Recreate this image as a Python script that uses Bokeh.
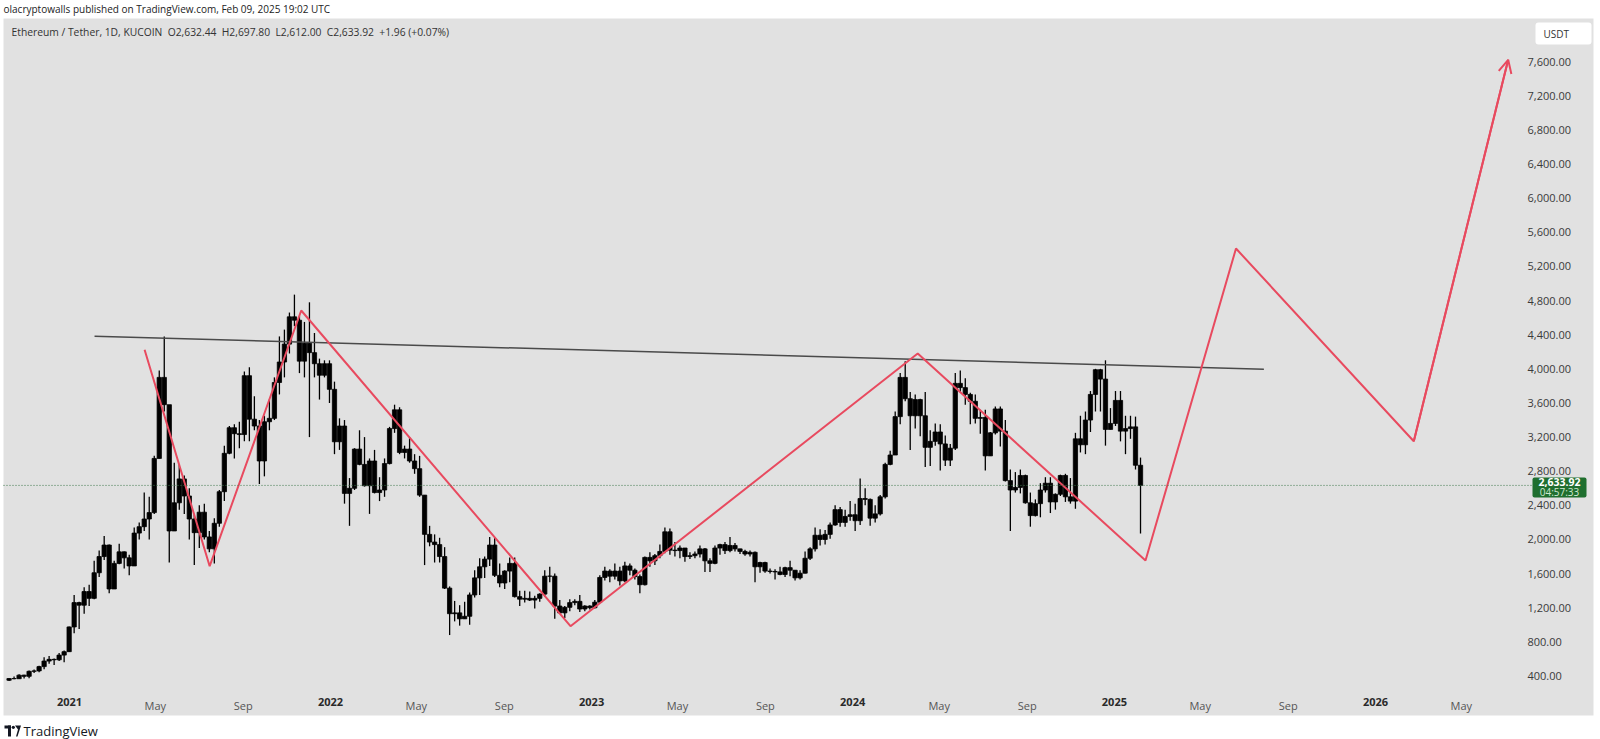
import pandas as pd
from bokeh.plotting import figure
from bokeh.models import (Range1d, LinearAxis, FixedTicker, NumeralTickFormatter,
                          Label, BoxAnnotation, Arrow, OpenHead, ColumnDataSource)
from bokeh.embed import file_html
from bokeh.resources import INLINE

# ------------------------------------------------------------------ data
# ETH/USDT, one candle per week (weeks starting Monday)
week_start = "2020-10-05"
first_open = 350

close_2020 = [370, 368, 410, 396, 455, 460, 510, 575, 595, 590, 645, 685, 975]
high_2020 = [375, 395, 420, 415, 465, 475, 520, 620, 635, 605, 670, 700, 980]
low_2020 = [340, 362, 365, 370, 375, 435, 445, 480, 545, 530, 575, 560, 680]

close_2021 = [1260, 1230, 1390, 1310, 1610, 1800, 1935, 1420, 1720, 1855, 1785, 1690, 2075,
              2150, 2240, 2315, 2950, 3900, 3580, 2100, 2430, 2710, 2510, 2240, 2080, 2320,
              2030, 1890, 2190, 2560, 3010, 3310, 3240, 3230, 3920, 3410, 3330, 2920, 3380,
              3420, 3840, 4080, 4290, 4610, 4570, 4090, 4300, 4190, 4060, 3925, 4060, 3760]
high_2021 = [1350, 1270, 1440, 1470, 1750, 1870, 2040, 1940, 1750, 1950, 1860, 1820, 2140,
             2200, 2550, 2500, 2980, 3980, 4380, 3570, 2900, 2880, 2750, 2600, 2290, 2400,
             2420, 2100, 2250, 2580, 3100, 3330, 3350, 3380, 3970, 4020, 3680, 3400, 3450,
             3640, 3900, 4380, 4460, 4660, 4870, 4620, 4550, 4780, 4420, 4120, 4100, 4100]
low_2021 = [900, 950, 1130, 1220, 1300, 1560, 1760, 1370, 1430, 1710, 1660, 1580, 1690,
            2000, 2100, 2000, 2300, 2950, 3500, 1730, 2100, 2350, 2300, 2000, 1700, 1900,
            2000, 1850, 1720, 2150, 2450, 3000, 2950, 3070, 3150, 3150, 3280, 2650, 2740,
            3280, 3400, 3700, 3900, 4180, 4500, 3950, 3900, 3200, 3900, 3640, 3900, 3600]

close_2022 = [3145, 3330, 2540, 2600, 3060, 2880, 2630, 2920, 2550, 2580, 2890, 3300, 3520,
              3020, 3060, 2920, 2830, 2520, 2060, 1970, 1940, 1800, 1430, 1130, 1140, 1070,
              1100, 1350, 1550, 1680, 1770, 1935, 1580, 1490, 1630, 1720, 1330, 1300, 1310,
              1290, 1310, 1360, 1570, 1570, 1220, 1140, 1205, 1260, 1275, 1185, 1220, 1200]
high_2022 = [3850, 3420, 3400, 2720, 3070, 3280, 3200, 2950, 3050, 2730, 2950, 3320, 3580,
             3550, 3100, 3200, 3000, 2980, 2520, 2160, 2060, 2020, 1910, 1450, 1280, 1230,
             1270, 1380, 1640, 1780, 1800, 2030, 2020, 1720, 1640, 1790, 1790, 1400, 1400,
             1390, 1340, 1370, 1640, 1680, 1600, 1290, 1220, 1300, 1300, 1350, 1230, 1230]
low_2022 = [3000, 3050, 2420, 2160, 2580, 2870, 2620, 2300, 2540, 2450, 2500, 2880, 3250,
            3000, 2950, 2900, 2770, 2500, 1700, 1920, 1730, 1730, 1420, 880, 1040, 990,
            1070, 1000, 1320, 1350, 1550, 1690, 1560, 1440, 1420, 1500, 1320, 1220, 1260,
            1280, 1190, 1270, 1330, 1500, 1070, 1130, 1080, 1160, 1230, 1150, 1160, 1180]

close_2023 = [1265, 1555, 1630, 1570, 1630, 1515, 1690, 1640, 1565, 1470, 1790, 1750, 1810,
              1860, 2090, 1875, 1870, 1900, 1800, 1810, 1830, 1890, 1750, 1720, 1900, 1940,
              1870, 1930, 1890, 1860, 1830, 1850, 1680, 1730, 1630, 1625, 1620, 1590, 1670,
              1640, 1550, 1605, 1780, 1890, 2050, 2000, 2060, 2170, 2350, 2200, 2270, 2290]
high_2023 = [1290, 1580, 1680, 1650, 1720, 1680, 1740, 1720, 1660, 1590, 1800, 1850, 1830,
             1940, 2140, 2130, 1970, 1930, 1900, 1850, 1860, 1930, 1900, 1780, 1930, 1950,
             1970, 2030, 1960, 1890, 1880, 1870, 1860, 1740, 1740, 1660, 1650, 1680, 1680,
             1750, 1640, 1640, 1860, 1910, 2140, 2120, 2110, 2200, 2400, 2380, 2350, 2450]
low_2023 = [1190, 1260, 1520, 1500, 1530, 1460, 1500, 1580, 1530, 1370, 1460, 1680, 1700,
            1780, 1840, 1820, 1800, 1780, 1740, 1770, 1780, 1790, 1620, 1620, 1710, 1820,
            1830, 1850, 1860, 1830, 1810, 1800, 1500, 1610, 1610, 1600, 1530, 1580, 1560,
            1570, 1520, 1530, 1600, 1760, 1860, 1930, 1940, 2010, 2160, 2150, 2150, 2220]

close_2024 = [2220, 2480, 2470, 2250, 2300, 2500, 2880, 2990, 3440, 3900, 3650, 3450, 3640,
              3450, 3080, 3150, 3260, 3120, 2930, 3070, 3830, 3780, 3700, 3620, 3420, 3430,
              2980, 3250, 3530, 3270, 2690, 2580, 2610, 2750, 2430, 2280, 2420, 2580, 2660,
              2440, 2530, 2750, 2500, 2450, 3180, 3110, 3400, 3700, 3990, 3880, 3290, 3360, 3630]
high_2024 = [2420, 2715, 2600, 2480, 2400, 2520, 2900, 3040, 3500, 3950, 4090, 3730, 3700,
             3650, 3730, 3280, 3360, 3350, 3220, 3120, 3950, 3980, 3890, 3720, 3700, 3520,
             3520, 3260, 3560, 3560, 3400, 2820, 2790, 2820, 2760, 2550, 2470, 2660, 2730,
             2730, 2540, 2760, 2770, 2720, 3250, 3450, 3500, 3740, 4000, 4000, 4100, 3540, 3740]
low_2024 = [2100, 2170, 2400, 2160, 2200, 2280, 2480, 2870, 2990, 3350, 3620, 3050, 3300,
            3210, 2850, 2860, 3100, 2810, 2860, 2860, 3050, 3730, 3580, 3350, 3360, 3240,
            2810, 2980, 3230, 3090, 2680, 2100, 2550, 2540, 2420, 2150, 2270, 2260, 2550,
            2310, 2350, 2510, 2440, 2420, 2360, 3020, 3000, 3260, 3500, 3500, 3100, 3290, 3330]

close_2025 = [3270, 3300, 3320, 2870, 2633.92]
high_2025 = [3740, 3450, 3450, 3440, 2960]
low_2025 = [3150, 3000, 3180, 2820, 2070]

# header values
symbol_text = "Ethereum / Tether, 1D, KUCOIN"
ohlc_open, ohlc_high, ohlc_low, ohlc_close = 2632.44, 2697.80, 2612.00, 2633.92
change_abs, change_pct = 1.96, 0.07
countdown = "04:57:33"
publisher_text = "olacryptowalls published on TradingView.com, Feb 09, 2025 19:02 UTC"
currency = "USDT"
footer_text = "TradingView"

# drawings (anchored to date / price)
zigzag_dates = ["2021-04-16", "2021-07-16", "2021-11-21", "2022-12-02 12:00", "2024-04-01",
                "2025-02-13 12:00", "2025-06-20", "2026-02-23 14:00", "2026-07-05 14:00"]
zigzag_prices = [4223, 1687, 4684, 984, 4180, 1754, 5410, 3151, 7622]
trend_dates = ["2021-02-05", "2025-07-29"]
trend_prices = [4383, 3996]

# axes
price_ticks = [400, 800, 1200, 1600, 2000, 2400, 2800, 3200, 3600, 4000,
               4400, 4800, 5200, 5600, 6000, 6400, 6800, 7200, 7600]
year_ticks = ["2021-01-01", "2022-01-01", "2023-01-01", "2024-01-01", "2025-01-01", "2026-01-01"]
year_labels = ["2021", "2022", "2023", "2024", "2025", "2026"]
month_ticks = ["2021-05-01", "2021-09-01", "2022-05-01", "2022-09-01", "2023-05-01", "2023-09-01",
               "2024-05-01", "2024-09-01", "2025-05-01", "2025-09-01", "2026-05-01"]
month_labels = ["May", "Sep", "May", "Sep", "May", "Sep", "May", "Sep", "May", "Sep", "May"]

# ------------------------------------------------------------------ helpers
DAY = 86400000.0


def ms(s):
    return pd.Timestamp(s).value / 1e6


# calibration of the reference picture (page pixels)
X0_DATE, X0_PX, PX_PER_DAY = "2021-01-01", 69.0, 0.7152
Y0_VAL, Y0_PX, PX_PER_UNIT = 400.0, 675.5, 0.08532


def px_x(px):
    return ms(X0_DATE) + (px - X0_PX) / PX_PER_DAY * DAY


def px_y(py):
    return Y0_VAL + (Y0_PX - py) / PX_PER_UNIT


week_close = close_2020 + close_2021 + close_2022 + close_2023 + close_2024 + close_2025
week_high = high_2020 + high_2021 + high_2022 + high_2023 + high_2024 + high_2025
week_low = low_2020 + low_2021 + low_2022 + low_2023 + low_2024 + low_2025
n = len(week_close)
assert n == len(week_high) == len(week_low)
week_open = [first_open] + week_close[:-1]
week_x = [ms(d) + 3.5 * DAY for d in pd.date_range(week_start, periods=n, freq="7D")]

src = ColumnDataSource(dict(
    x=week_x,
    top=[max(o, c) for o, c in zip(week_open, week_close)],
    bottom=[min(o, c) for o, c in zip(week_open, week_close)],
    high=week_high, low=week_low))

RED = "#e84a5f"
BG = "#e1e1e1"
FONT = "Open Sans"

# the frame covers the whole page; the grey chart pane is x 3..1593, y 18..715
p = figure(width=1600, height=739,
           x_range=Range1d(px_x(0), px_x(1600)), y_range=Range1d(px_y(739), px_y(0)),
           x_axis_location=None, y_axis_location=None, toolbar_location=None,
           output_backend="svg", title=None,
           min_border_left=0, min_border_right=0, min_border_top=0, min_border_bottom=0,
           background_fill_color="white", border_fill_color="white", outline_line_color=None)
for g in p.grid:
    g.visible = False

p.add_layout(BoxAnnotation(left=px_x(3), right=px_x(1593), top=px_y(18), bottom=px_y(715),
                           fill_color=BG, fill_alpha=1, line_color=None, level="underlay"))

# candles
p.segment(x0="x", y0="low", x1="x", y1="high", source=src, line_color="black", line_width=1.3)
p.vbar(x="x", width=6 * DAY, top="top", bottom="bottom", source=src,
       fill_color="black", line_color="black", line_width=0.8)

# trend line and zigzag drawing
p.line([ms(d) for d in trend_dates], trend_prices, line_color="#4a4a4a", line_width=1.5)
zx = [ms(d) for d in zigzag_dates]
p.line(zx, zigzag_prices, line_color=RED, line_width=2)
p.add_layout(Arrow(end=OpenHead(size=13, line_color=RED, line_width=2),
                   x_start=zx[-2], y_start=zigzag_prices[-2], x_end=zx[-1], y_end=zigzag_prices[-1],
                   line_color=RED, line_width=2))

# last price line (dotted, across the pane up to the price scale)
p.line([px_x(3), px_x(1532)], [ohlc_close, ohlc_close], line_color="#3f7a4c",
       line_dash="1 2", line_width=1)

# price axis (drawn inside the pane, like TradingView)
yax = LinearAxis(fixed_location=px_x(1526), ticker=FixedTicker(ticks=price_ticks),
                 formatter=NumeralTickFormatter(format="0,0.00"),
                 axis_line_color=None, major_tick_line_color=None, minor_tick_line_color=None,
                 major_tick_out=0, major_tick_in=0, major_label_standoff=1,
                 major_label_text_font=FONT, major_label_text_font_size="11px",
                 major_label_text_color="#3a3a3a")
p.add_layout(yax, "right")

year_ms = [ms(d) for d in year_ticks]
month_ms = [ms(d) for d in month_ticks]
for ticks, labels, style, color in [(year_ms, year_labels, "bold", "#2a2a2a"),
                                     (month_ms, month_labels, "normal", "#555555")]:
    ax = LinearAxis(fixed_location=px_y(697), ticker=FixedTicker(ticks=ticks),
                    major_label_overrides=dict(zip(ticks, labels)),
                    axis_line_color=None, major_tick_line_color=None, minor_tick_line_color=None,
                    major_tick_out=0, major_tick_in=0, major_label_standoff=0,
                    major_label_text_font=FONT, major_label_text_font_size="11px",
                    major_label_text_font_style=style, major_label_text_color=color)
    p.add_layout(ax, "below")

# header texts
p.add_layout(Label(x=px_x(3), y=px_y(8.5), text=publisher_text, text_font=FONT,
                   text_font_size="10px", text_baseline="middle", text_color="#222222"))
gap = "\u00a0\u00a0"
info = (f"{symbol_text}{gap}O{ohlc_open:,.2f}{gap}H{ohlc_high:,.2f}{gap}L{ohlc_low:,.2f}{gap}"
        f"C{ohlc_close:,.2f}{gap}+{change_abs:.2f} (+{change_pct:.2f}%)")
p.add_layout(Label(x=px_x(11), y=px_y(31.5), text=info, text_font=FONT,
                   text_font_size="10.3px", text_baseline="middle", text_color="#333333"))

# currency box
p.add_layout(BoxAnnotation(left=px_x(1535), right=px_x(1591), top=px_y(22), bottom=px_y(44),
                           fill_color="white", fill_alpha=1, line_color=None, border_radius=3))
p.add_layout(Label(x=px_x(1543), y=px_y(33), text=currency, text_font=FONT,
                   text_font_size="10px", text_baseline="middle", text_color="#333333"))

# last price box
box_top = ohlc_close + 8 / PX_PER_UNIT
box_bottom = ohlc_close - 12 / PX_PER_UNIT
p.add_layout(BoxAnnotation(left=px_x(1532), right=px_x(1586), top=box_top, bottom=box_bottom,
                           fill_color="#1f6f2f", fill_alpha=1, line_color=None, border_radius=2))
p.add_layout(Label(x=px_x(1559), y=ohlc_close + 3 / PX_PER_UNIT, text=f"{ohlc_close:,.2f}",
                   text_font=FONT, text_font_size="10.5px", text_font_style="bold",
                   text_align="center", text_baseline="middle", text_color="white"))
p.add_layout(Label(x=px_x(1559), y=ohlc_close - 7 / PX_PER_UNIT, text=countdown,
                   text_font=FONT, text_font_size="10px",
                   text_align="center", text_baseline="middle", text_color="#cfe8d2"))

# footer: small logo mark and wordmark
LOGO = "#131722"
p.add_layout(BoxAnnotation(left=px_x(4), right=px_x(10.5), top=px_y(725), bottom=px_y(728),
                           fill_color=LOGO, fill_alpha=1, line_color=None))
p.add_layout(BoxAnnotation(left=px_x(7.5), right=px_x(10.5), top=px_y(725), bottom=px_y(736),
                           fill_color=LOGO, fill_alpha=1, line_color=None))
p.patch([px_x(14.5), px_x(20.5), px_x(17), px_x(15.5), px_x(17.5)],
        [px_y(725), px_y(725), px_y(736), px_y(736), px_y(729)],
        fill_color=LOGO, line_color=None)
p.scatter([px_x(12.8)], [px_y(726.8)], size=3.2, fill_color=LOGO, line_color=None)
p.add_layout(Label(x=px_x(23), y=px_y(730), text=footer_text, text_font=FONT,
                   text_font_size="13px", text_baseline="middle", text_color="#131722"))

open("out.html", "w").write(file_html(p, INLINE))
